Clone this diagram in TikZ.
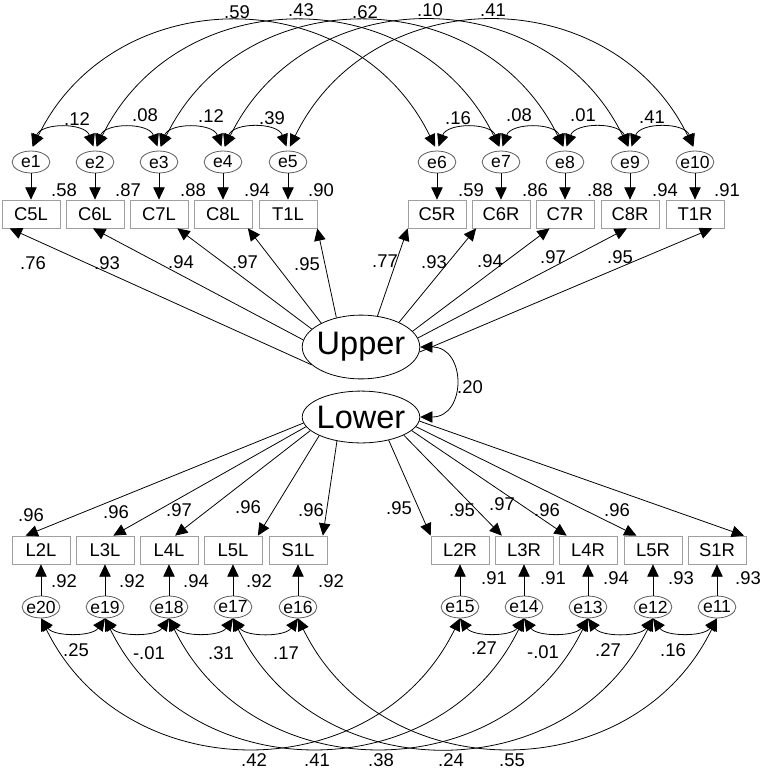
\documentclass[tikz,border=0pt]{standalone}
\usepackage{fontspec}
\setmainfont{Liberation Sans}
\usetikzlibrary{arrows.meta,shapes.geometric}

\begin{document}
\begin{tikzpicture}
        [x=0.02cm, y=-0.02cm, line width=0.45pt, >={Triangle[length=7pt,width=6.5pt]},
        obsBox/.style={rectangle, draw=gray!75, minimum width=32.9pt, minimum height=15.9pt, inner sep=0pt, font=\fontsize{10.5}{12}\selectfont},
        errNode/.style={ellipse, draw=gray!70!black, minimum width=21.5pt, minimum height=12.5pt, inner xsep=-2pt, inner ysep=0pt, font=\fontsize{10}{12}\selectfont},
        latNode/.style={ellipse, draw, minimum width=66.9pt, inner xsep=-2pt, inner ysep=0pt, font=\fontsize{18.5}{20}\selectfont},
        coef/.style={inner sep=0pt, font=\fontsize{10.5}{12}\selectfont},
        cov/.style={<->},
        covTop/.style={<->, shorten <=2.5pt, shorten >=2.5pt}]
        \useasboundingbox (0,0) rectangle (760,771);

        % latent variables
        \node[latNode, minimum height=36.3pt] (Upper) at (361,347) {Upper};
        \node[latNode, minimum height=29.5pt] (Lower) at (361,417) {Lower};

        % upper indicators
        \node[obsBox] (C5L) at (31,214) {C5L};
        \node[obsBox] (C6L) at (95,214) {C6L};
        \node[obsBox] (C7L) at (159,214) {C7L};
        \node[obsBox] (C8L) at (223,214) {C8L};
        \node[obsBox] (T1L) at (288,214) {T1L};
        \node[obsBox] (C5R) at (437,214) {C5R};
        \node[obsBox] (C6R) at (501,214) {C6R};
        \node[obsBox] (C7R) at (565,214) {C7R};
        \node[obsBox] (C8R) at (630,214) {C8R};
        \node[obsBox] (T1R) at (695,214) {T1R};

        \node[errNode] (e1) at (31,162) {e1};
        \node[errNode] (e2) at (95,162) {e2};
        \node[errNode] (e3) at (159,162) {e3};
        \node[errNode] (e4) at (223,162) {e4};
        \node[errNode] (e5) at (288,162) {e5};
        \node[errNode] (e6) at (437,162) {e6};
        \node[errNode] (e7) at (501,162) {e7};
        \node[errNode] (e8) at (565,162) {e8};
        \node[errNode] (e9) at (630,162) {e9};
        \node[errNode] (e10) at (695,162) {e10};

        % lower indicators
        \node[obsBox] (L2L) at (41,550) {L2L};
        \node[obsBox] (L3L) at (105,550) {L3L};
        \node[obsBox] (L4L) at (169,550) {L4L};
        \node[obsBox] (L5L) at (233,550) {L5L};
        \node[obsBox] (S1L) at (298,550) {S1L};
        \node[obsBox] (L2R) at (460,550) {L2R};
        \node[obsBox] (L3R) at (524,550) {L3R};
        \node[obsBox] (L4R) at (588,550) {L4R};
        \node[obsBox] (L5R) at (653,550) {L5R};
        \node[obsBox] (S1R) at (717,550) {S1R};

        \node[errNode] (e20) at (41,607) {e20};
        \node[errNode] (e19) at (105,607) {e19};
        \node[errNode] (e18) at (169,607) {e18};
        \node[errNode] (e17) at (233,607) {e17};
        \node[errNode] (e16) at (298,607) {e16};
        \node[errNode] (e15) at (460,607) {e15};
        \node[errNode] (e14) at (524,607) {e14};
        \node[errNode] (e13) at (588,607) {e13};
        \node[errNode] (e12) at (653,607) {e12};
        \node[errNode] (e11) at (717,607) {e11};

        % loadings
        \draw[->] (Upper.200) -- (C5L.214);
        \draw[->] (Upper.173) -- (C6L.262);
        \draw[->] (Upper.160) -- (C7L.322);
        \draw[->] (Upper.149) -- (C8L.330);
        \draw[->] (Upper.130) -- (T1L.south east);
        \draw[->] (Upper.62) -- (C5R.south west);
        \draw[->] (Upper.33) -- (C6R.210);
        \draw[->] (Upper.17) -- (C7R.223);
        \draw[->] (Upper.9) -- (C8R.258);
        \draw[->] (Upper.355) -- (T1R.320);

        \draw[->] (Lower.186) -- (L2L.137);
        \draw[->] (Lower.190) -- (L3L.60);
        \draw[->] (Lower.195) -- (L4L.67);
        \draw[->] (Lower.204) -- (L5L.30);
        \draw[->] (Lower.225) -- (S1L.30);
        \draw[->] (Lower.320) -- (L2R.north west);
        \draw[->] (Lower.337) -- (L3R.147);
        \draw[->] (Lower.345) -- (L4R.146);
        \draw[->] (Lower.350) -- (L5R.139);
        \draw[->] (Lower.356) -- (S1R.28);

        \draw[cov] (Upper.east) to[out=0, in=0, looseness=1.7] (Lower.east);

        % errors
        \draw[->] (e1) -- (C5L);
        \draw[->] (e2) -- (C6L);
        \draw[->] (e3) -- (C7L);
        \draw[->] (e4) -- (C8L);
        \draw[->] (e5) -- (T1L);
        \draw[->] (e6) -- (C5R);
        \draw[->] (e7) -- (C6R);
        \draw[->] (e8) -- (C7R);
        \draw[->] (e9) -- (C8R);
        \draw[->] (e10) -- (T1R);

        \draw[->] (e20) -- (L2L);
        \draw[->] (e19) -- (L3L);
        \draw[->] (e18) -- (L4L);
        \draw[->] (e17) -- (L5L);
        \draw[->] (e16) -- (S1L);
        \draw[->] (e15) -- (L2R);
        \draw[->] (e14) -- (L3R);
        \draw[->] (e13) -- (L4R);
        \draw[->] (e12) -- (L5R);
        \draw[->] (e11) -- (S1R);

        % error covariances, top
        \draw[covTop] (e1.north) to[out=70, in=110, looseness=1.2] (e2.north);
        \draw[covTop] (e2.north) to[out=70, in=110, looseness=1.2] (e3.north);
        \draw[covTop] (e3.north) to[out=70, in=110, looseness=1.2] (e4.north);
        \draw[covTop] (e4.north) to[out=70, in=110, looseness=1.2] (e5.north);
        \draw[covTop] (e6.north) to[out=70, in=110, looseness=1.2] (e7.north);
        \draw[covTop] (e7.north) to[out=70, in=110, looseness=1.2] (e8.north);
        \draw[covTop] (e8.north) to[out=70, in=110, looseness=1.2] (e9.north);
        \draw[covTop] (e9.north) to[out=70, in=110, looseness=1.2] (e10.north);

        \draw[covTop] (e1.north) to[out=64, in=116, looseness=1.2] (e6.north);
        \draw[covTop] (e2.north) to[out=64, in=116, looseness=1.2] (e7.north);
        \draw[covTop] (e3.north) to[out=64, in=116, looseness=1.2] (e8.north);
        \draw[covTop] (e4.north) to[out=64, in=116, looseness=1.2] (e9.north);
        \draw[covTop] (e5.north) to[out=64, in=116, looseness=1.2] (e10.north);

        % error covariances, bottom
        \draw[cov] (e20.south) to[out=-55, in=-125, looseness=0.9] (e19.south);
        \draw[cov] (e19.south) to[out=-55, in=-125, looseness=0.9] (e18.south);
        \draw[cov] (e18.south) to[out=-55, in=-125, looseness=0.9] (e17.south);
        \draw[cov] (e17.south) to[out=-55, in=-125, looseness=0.9] (e16.south);
        \draw[cov] (e15.south) to[out=-55, in=-125, looseness=0.9] (e14.south);
        \draw[cov] (e14.south) to[out=-55, in=-125, looseness=0.9] (e13.south);
        \draw[cov] (e13.south) to[out=-55, in=-125, looseness=0.9] (e12.south);
        \draw[cov] (e12.south) to[out=-55, in=-125, looseness=0.9] (e11.south);

        \draw[cov] (e20.south) to[out=-64, in=-116, looseness=1.17] (e15.south);
        \draw[cov] (e19.south) to[out=-64, in=-116, looseness=1.17] (e14.south);
        \draw[cov] (e18.south) to[out=-64, in=-116, looseness=1.17] (e13.south);
        \draw[cov] (e17.south) to[out=-64, in=-116, looseness=1.17] (e12.south);
        \draw[cov] (e16.south) to[out=-64, in=-116, looseness=1.17] (e11.south);

        % coefficients
        \node[coef] (rUL) at (470,387) {.20};

        \node[coef] (wC5L) at (33,263) {.76};
        \node[coef] (wC6L) at (107,263) {.93};
        \node[coef] (wC7L) at (181,262) {.94};
        \node[coef] (wC8L) at (245,262) {.97};
        \node[coef] (wT1L) at (307,264) {.95};
        \node[coef] (wC5R) at (385,261) {.77};
        \node[coef] (wC6R) at (434,262) {.93};
        \node[coef] (wC7R) at (490,261) {.94};
        \node[coef] (wC8R) at (553,257) {.97};
        \node[coef] (wT1R) at (620,257) {.95};

        \node[coef] (sC5L) at (64,190) {.58};
        \node[coef] (sC6L) at (128,190) {.87};
        \node[coef] (sC7L) at (193,190) {.88};
        \node[coef] (sC8L) at (257,190) {.94};
        \node[coef] (sT1L) at (321,190) {.90};
        \node[coef] (sC5R) at (471,190) {.59};
        \node[coef] (sC6R) at (535,190) {.86};
        \node[coef] (sC7R) at (600,190) {.88};
        \node[coef] (sC8R) at (665,190) {.94};
        \node[coef] (sT1R) at (727,190) {.91};

        \node[coef] (r12) at (77,119) {.12};
        \node[coef] (r23) at (145,115) {.08};
        \node[coef] (r34) at (211,116) {.12};
        \node[coef] (r45) at (272,118) {.39};
        \node[coef] (r67) at (458,118) {.16};
        \node[coef] (r78) at (519,115) {.08};
        \node[coef] (r89) at (583,115) {.01};
        \node[coef] (r910) at (652,117) {.41};

        \node[coef] (r16) at (237,12) {.59};
        \node[coef] (r27) at (301,10) {.43};
        \node[coef] (r38) at (365,12) {.62};
        \node[coef] (r49) at (430,10) {.10};
        \node[coef] (r510) at (493,10) {.41};

        \node[coef] (wL2L) at (31,515) {.96};
        \node[coef] (wL3L) at (116,512) {.96};
        \node[coef] (wL4L) at (179,510) {.97};
        \node[coef] (wL5L) at (248,507) {.96};
        \node[coef] (wS1L) at (311,510) {.96};
        \node[coef] (wL2R) at (399,508) {.95};
        \node[coef] (wL3R) at (462,510) {.95};
        \node[coef] (wL4R) at (502,504) {.97};
        \node[coef] (wL5R) at (547,510) {.96};
        \node[coef] (wS1R) at (617,510) {.96};

        \node[coef] (sL2L) at (64,581) {.92};
        \node[coef] (sL3L) at (132,581) {.92};
        \node[coef] (sL4L) at (196,581) {.94};
        \node[coef] (sL5L) at (259,581) {.92};
        \node[coef] (sS1L) at (331,581) {.92};
        \node[coef] (sL2R) at (494,578) {.91};
        \node[coef] (sL3R) at (553,578) {.91};
        \node[coef] (sL4R) at (616,578) {.94};
        \node[coef] (sL5R) at (681,578) {.93};
        \node[coef] (sS1R) at (748,578) {.93};

        \node[coef] (r2019) at (76,650) {.25};
        \node[coef] (r1918) at (149,653) {-.01};
        \node[coef] (r1817) at (221,653) {.31};
        \node[coef] (r1716) at (286,653) {.17};
        \node[coef] (r1514) at (484,648) {.27};
        \node[coef] (r1413) at (543,652) {-.01};
        \node[coef] (r1312) at (608,650) {.27};
        \node[coef] (r1211) at (673,650) {.16};

        \node[coef] (r2015) at (254,760) {.42};
        \node[coef] (r1914) at (317,760) {.41};
        \node[coef] (r1813) at (381,760) {.38};
        \node[coef] (r1712) at (451,760) {.24};
        \node[coef] (r1611) at (512,760) {.55};
    \end{tikzpicture}
\end{document}
